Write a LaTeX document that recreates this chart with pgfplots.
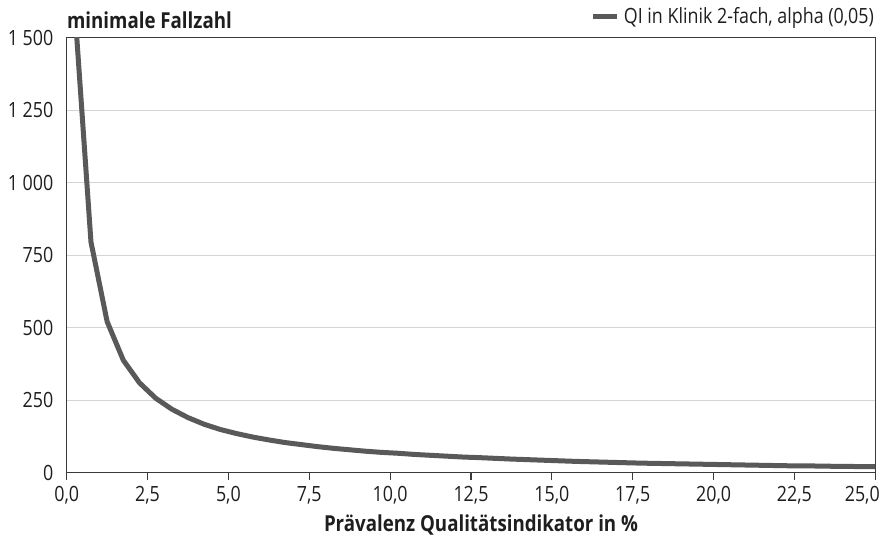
\documentclass[border=0pt]{standalone}
\usepackage{pgfplots}
\pgfplotsset{compat=1.18}
\usepackage{fontspec}
\setmainfont[FakeStretch=0.85]{Open Sans}
\definecolor{curve}{HTML}{595959}
\definecolor{grid}{HTML}{D4D4D4}
\definecolor{axl}{HTML}{3A3A3A}
\definecolor{txt}{HTML}{1E1E1E}
\begin{document}
\begin{tikzpicture}
\begin{axis}[
  name=ax,
  scale only axis,
  width=404.3pt, height=217.5pt,
  xmin=0, xmax=25, ymin=0, ymax=1500,
  axis line style={draw=axl, line width=0.7pt},
  xtick={0,2.5,5,7.5,10,12.5,15,17.5,20,22.5,25},
  xticklabels={{0,0},{2,5},{5,0},{7,5},{10,0},{12,5},{15,0},{17,5},{20,0},{22,5},{\hspace*{-13pt}25,0}},
  ytick={0,250,500,750,1000,1250,1500},
  yticklabels={0,250,500,750,1\ 000,1\ 250,1\ 500},
  tick align=outside,
  xtick pos=bottom,
  xtick style={draw=axl, line width=0.6pt},
  major tick length=3.5pt,
  ytick style={draw=none},
  ymajorgrids,
  grid style={draw=grid, line width=0.5pt},
  tick label style={font=\fontsize{10.5}{12}\selectfont, text=txt},
  yticklabel style={inner sep=0pt, xshift=-3pt},
  xticklabel style={inner sep=0pt, yshift=-3pt},
  xlabel={\textbf{Prävalenz Qualitätsindikator in \%}},
  xlabel style={font=\fontsize{11}{13}\selectfont, text=txt, inner sep=0pt, yshift=-5pt, xshift=5pt},
  legend style={at={(rel axis cs:1,1)}, anchor=south east, draw=none, fill=none,
    inner sep=0pt, yshift=3.5pt, xshift=1.5pt, font=\fontsize{10.5}{12}\selectfont, text=txt},
  legend image code/.code={\draw[#1, line width=2.5pt] (0pt,0pt) -- (12pt,0pt);},
]
\addplot[curve, line width=2.5pt, line join=round] table {
x y
0.25 1600
0.75 796
1.25 521
1.75 388
2.25 310
2.75 257
3.25 219
3.75 190
4.25 167
4.75 149
5.25 135
5.75 123
6.25 113
6.75 104
7.25 97
7.75 90
8.25 84
8.75 79
9.25 74
9.75 70
10.25 67
10.75 63
11.25 60
11.75 57
12.25 54
12.75 52
13.25 49.5
13.75 47
14.25 45
14.75 43
15.25 41
15.75 39
16.25 37.5
16.75 36
17.25 34.5
17.75 33
18.25 32
18.75 31
19.25 30
19.75 29
20.25 28
20.75 27
21.25 26
21.75 25
22.25 24
22.75 23.5
23.25 23
23.75 22
24.25 21.5
24.75 21
25.0 20.8
};
\addlegendentry{QI in Klinik 2-fach, alpha (0,05)}
\end{axis}
\node[anchor=base west, inner sep=0pt, font=\fontsize{11}{13}\selectfont\bfseries, text=txt]
  at ([yshift=4.8pt]ax.north west) {minimale Fallzahl};
\pgfresetboundingbox
\path ([xshift=-33.35pt, yshift=-31.65pt]ax.south west) rectangle ([xshift=3.85pt, yshift=18.85pt]ax.north east);
\end{tikzpicture}
\end{document}
